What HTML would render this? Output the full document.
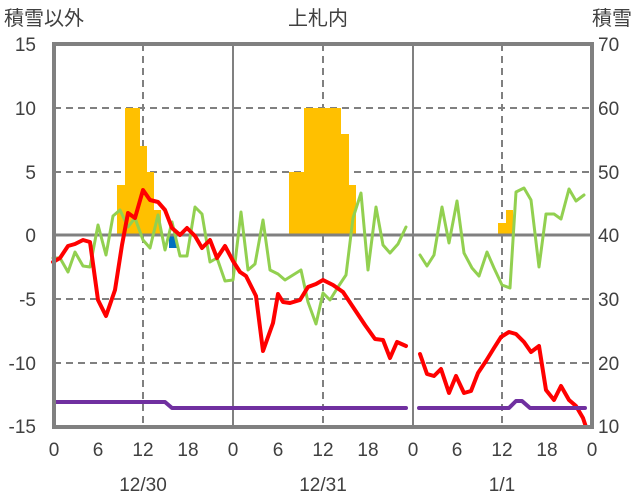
<!DOCTYPE html>
<html><head><meta charset="utf-8"><style>
body{margin:0;background:#fff;}
svg{display:block;font-family:"Liberation Sans","Noto Sans CJK JP",sans-serif;}
</style></head><body>
<svg width="636" height="501" viewBox="0 0 636 501" xmlns="http://www.w3.org/2000/svg">
<rect width="636" height="501" fill="#fff"/>
<g stroke="#808080" stroke-width="2" stroke-dasharray="7,5" fill="none">
<line x1="54" y1="108" x2="592" y2="108"/>
<line x1="54" y1="172" x2="592" y2="172"/>
<line x1="54" y1="299" x2="592" y2="299"/>
<line x1="54" y1="363" x2="592" y2="363"/>
<line x1="143" y1="44" x2="143" y2="427"/>
<line x1="323" y1="44" x2="323" y2="427"/>
<line x1="502" y1="44" x2="502" y2="427"/>
</g>
<g stroke="#808080" stroke-width="2">
<line x1="233" y1="44" x2="233" y2="427"/>
<line x1="413" y1="44" x2="413" y2="427"/>
</g>
<g fill="#FFC000">
<rect x="117" y="185" width="8" height="50"/>
<rect x="125" y="108" width="15" height="127"/>
<rect x="140" y="146" width="7" height="89"/>
<rect x="147" y="172" width="7" height="63"/>
<rect x="154" y="210" width="7" height="25"/>
<rect x="289" y="172" width="15" height="63"/>
<rect x="304" y="108" width="37" height="127"/>
<rect x="341" y="134" width="8" height="101"/>
<rect x="349" y="185" width="7" height="50"/>
<rect x="498" y="223" width="8" height="12"/>
<rect x="506" y="210" width="7" height="25"/>
</g>
<rect x="169" y="235" width="8" height="13" fill="#0070C0"/>
<line x1="54" y1="235" x2="592" y2="235" stroke="#808080" stroke-width="3"/>
<g fill="none" stroke-linejoin="round" stroke-linecap="round">
<polyline stroke="#92D050" stroke-width="3" points="53,258 60,258 68,272 75,252 83,266 90,267 98,225 106,255 113,216 120,210 128,227 135,218 143,240 150,248 158,215 165,250 172,222 180,256 187,256 195,207 202,214 210,262 217,258 225,281 233,280 241,212 248,270 255,264 263,220 270,270 278,274 285,280 293,275 301,270 308,302 316,324 323,293 330,300 338,287 346,275 353,218 361,193 368,270 376,207 383,245 390,253 398,244 406,227"/>
<polyline stroke="#92D050" stroke-width="3" points="420,255 427,266 434,255 442,207 449,243 457,201 464,253 472,268 479,276 487,252 494,268 502,285 510,288 516,192 524,188 531,200 539,267 546,214 554,214 561,219 569,189 576,201 584,195"/>
<polyline stroke="#FF0000" stroke-width="4" points="53,262 60,258 68,246 75,244 83,240 90,242 98,300 106,316 115,290 122,245 128,213 135,218 143,190 150,200 158,202 165,210 172,228 180,235 187,228 195,236 202,248 210,240 217,258 225,246 233,261 240,272 246,276 256,296 263,351 273,323 278,294 283,302 290,303 300,300 308,287 316,284 323,280 333,285 343,292 355,310 365,325 375,339 383,340 390,358 397,342 406,346"/>
<polyline stroke="#FF0000" stroke-width="4" points="420,354 427,374 434,376 441,369 449,393 456,376 464,393 471,391 478,373 486,361 494,348 501,337 509,332 516,334 524,342 531,352 539,346 546,390 554,400 561,386 569,400 576,406 583,418 586,427"/>
<polyline stroke="#7030A0" stroke-width="4" points="54,402 165,402 172,408 406,408"/>
<polyline stroke="#7030A0" stroke-width="4" points="419,408 509,408 516,401 522,401 530,408 585,408"/>
</g>
<rect x="54" y="44" width="538" height="383" fill="none" stroke="#808080" stroke-width="4"/>
<g fill="#404040" font-size="20">
<text x="4" y="25">積雪以外</text>
<text x="318" y="25" text-anchor="middle">上札内</text>
<text x="632" y="25" text-anchor="end">積雪</text>
</g>
<g fill="#404040" font-size="19" text-anchor="end">
<text x="36" y="51">15</text><text x="36" y="115">10</text><text x="36" y="179">5</text>
<text x="36" y="242">0</text><text x="36" y="306">-5</text><text x="36" y="370">-10</text><text x="36" y="433">-15</text>
</g>
<g fill="#404040" font-size="19" text-anchor="start">
<text x="598" y="51">70</text><text x="598" y="115">60</text><text x="598" y="179">50</text>
<text x="598" y="242">40</text><text x="598" y="306">30</text><text x="598" y="370">20</text><text x="598" y="433">10</text>
</g>
<g fill="#404040" font-size="19" text-anchor="middle">
<text x="54" y="456">0</text><text x="98" y="456">6</text><text x="143" y="456">12</text><text x="188" y="456">18</text>
<text x="233" y="456">0</text><text x="278" y="456">6</text><text x="323" y="456">12</text><text x="368" y="456">18</text>
<text x="413" y="456">0</text><text x="457" y="456">6</text><text x="502" y="456">12</text><text x="547" y="456">18</text>
<text x="592" y="456">0</text>
<text x="143" y="491">12/30</text><text x="323" y="491">12/31</text><text x="502" y="491">1/1</text>
</g>
</svg>
</body></html>
